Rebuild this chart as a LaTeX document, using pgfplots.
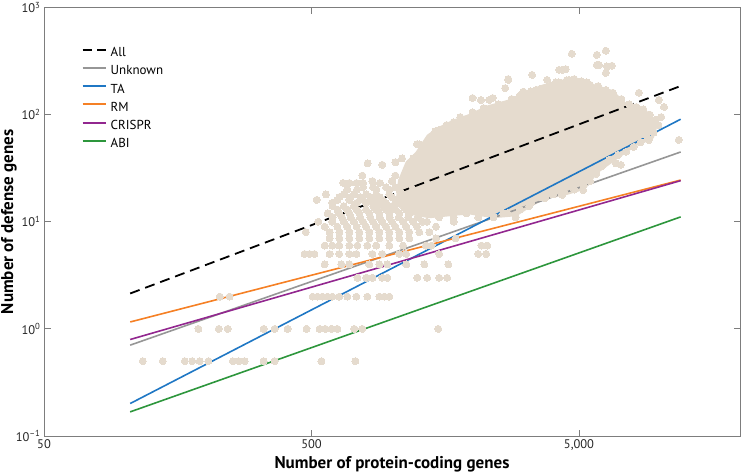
\documentclass[border=0pt]{standalone}
\usepackage{fontspec}
\setmainfont{PT Sans}
\usepackage{pgfplots}
\pgfplotsset{compat=1.18}
\definecolor{beige}{RGB}{229,219,206}
\definecolor{taBlue}{RGB}{31,119,196}
\definecolor{rmOrange}{RGB}{245,128,37}
\definecolor{crPurple}{RGB}{146,39,143}
\definecolor{abiGreen}{RGB}{45,150,60}
\definecolor{unkGray}{RGB}{150,150,150}
\definecolor{axisGray}{RGB}{125,125,125}
\begin{document}
\begin{tikzpicture}
\useasboundingbox (-44pt,-38pt) rectangle (701pt,436pt);
\begin{axis}[
  at={(0,0)}, anchor=south west,
  scale only axis, width=696pt, height=428.5pt,
  xmode=log, ymode=log,
  xmin=50, xmax=20000, ymin=0.1, ymax=1000,
  xtick={50,500,5000}, xticklabels={50,500,{5,000}},
  ytick={0.1,1,10,100,1000},
  yticklabels={10\textsuperscript{–1},10\textsuperscript{0},10\textsuperscript{1},10\textsuperscript{2},10\textsuperscript{3}},
  xminorticks=false, yminorticks=false,
  tick align=inside, major tick length=6.5pt,
  axis line style={draw=axisGray, line width=0.9pt},
  every tick/.style={draw=axisGray, line width=0.9pt},
  ticklabel style={font=\fontsize{12.5}{14}\selectfont, text=black!85},
  xlabel={Number of protein-coding genes},
  ylabel={Number of defense genes},
  label style={font=\bfseries\fontsize{17}{20}\selectfont},
  xlabel style={at={(axis description cs:0.5,-0.077)}, anchor=base},
  ylabel style={at={(axis description cs:-0.0618,0.5)}, anchor=north, inner sep=0pt},
  legend cell align=left,
  legend style={at={(axis description cs:0.0539,0.9078)}, anchor=north west,
    draw=none, fill=none, inner sep=0pt, row sep=6.2pt,
    font=\fontsize{13}{15}\selectfont,
    nodes={inner xsep=3.5pt, inner ysep=0pt, text height=9.5pt, text depth=2.5pt}},
]
% dense core of the cloud
\addplot[forget plot, fill=beige, draw=beige, line width=6pt, line join=round] coordinates {
(1250,43) (1378,62) (1500,72) (1700,84) (1950,95) (2300,115) (2750,130) (3250,160)
(3700,180) (4100,194) (4700,205) (5200,195) (5800,177) (6600,160) (7400,122) (8700,108)
(9600,80) (9300,62) (8100,54) (6800,40) (5800,30) (5170,21) (4330,18.5) (3740,17.5)
(3256,14.5) (2900,12) (2400,11.5) (1944,12.5) (1637,12) (1378,11.5) (1150,12.5) (1060,16)
(1080,24) (1150,35)} -- cycle;
% individual genomes
\addplot[forget plot, only marks, mark=*, mark size=3.5pt, color=beige, mark options={draw=beige, fill=beige, line width=0pt}] table {
x y
117 0.5
139 0.5
168 0.5
179 0.5
191 0.5
206 0.5
254 0.5
267 0.5
281 0.5
331 0.5
364 0.5
545 0.5
730 0.5
189 1
225 1
243 1
331 1
364 1
407 1
479 1
536 1
564 1
594 1
625 1
723 1
775 1
1489 1
227 2
247 2
505 2
527 2
549 2
574 2
598 2
635 2
681 2
736 2
809 2
897 2
936 2
977 2
743 3
802 3
845 3
920 3
961 3
1243 3
1354 3
1501 3
1608 3
560 4
647 4
693 4
822 4
897 4
961 4
1130 4
1320 4
1623 4
471 5
492 5
513 5
584 5
635 5
693 5
736 5
845 5
920 5
1065 5
1130 5
1501 5
2100 5
2249 5
560 6
598 6
635 6
693 6
743 6
809 6
873 6
977 6
1100 6
1340 6
1405 6
2160 6
2270 6
584 7
636 7
693 7
755 7
823 7
897 7
977 7
1065 7
1160 7
1460 7
1730 7
476 8
584 8
636 8
693 8
755 8
823 8
897 8
977 8
1065 8
1160 8
1265 8
1380 8
560 9
625 9
680 9
737 9
800 9
873 9
950 9
1030 9
1130 9
1240 9
1460 9
530 10
598 10
660 10
720 10
780 10
850 10
920 10
1000 10
1100 10
1200 10
1300 10
1700 10
600 11
650 11
700 11
760 11
830 11
900 11
980 11
1060 11
1150 11
1250 11
575 12
636 12
693 12
755 12
823 12
897 12
977 12
1065 12
1160 12
625 13
680 13
737 13
800 13
873 13
950 13
1030 13
1130 13
600 14
660 14
720 14
850 14
920 14
1000 14
1100 14
1200 14
598 15
737 15
800 15
873 15
950 15
1060 15
1160 15
523 16
625 16
693 16
780 16
845 16
920 16
1030 16
1130 16
636 17
700 17
760 17
830 17
900 17
1000 17
566 18
660 18
720 18
800 18
873 18
977 18
1100 18
680 20
740 20
873 20
977 20
1065 20
1200 20
780 21
850 21
950 21
1030 21
657 23
693 23
737 23
780 23
900 23
1100 23
845 24
1000 24
1160 24
775 27
1030 27
1120 27
810 35
920 34
1030 36
1090 39
1200 39
1265 53
1240 53
1265 38
1502 72
1870 89
1750 80
2000 143
2150 137
2380 143
2650 177
2720 215
2720 211
3340 235
3800 211
4213 262
4330 262
4460 266
4700 370
5830 361
6300 395
5940 291
5830 291
6360 282
6640 286
6300 245
5350 200
4590 211
4100 200
3450 170
3100 164
2900 137
2308 137
8375 160
9946 137
10400 118
10150 95
11800 58
9127 58
6870 35
7170 34
5180 19.8
2400 16
2250 15
1944 14
2600 12
2900 11
3256 14
3740 16.6
4330 17.8
5790 29
1400 62
1450 70
1600 80
1700 85
1800 95
2000 105
2200 115
2500 125
2800 140
3000 150
3300 165
3600 175
3900 185
4200 200
4500 210
4800 215
5100 205
5500 190
5900 185
6300 170
6700 160
7200 140
7700 125
8200 118
8700 112
9200 100
9700 90
9900 80
9500 68
9000 62
8500 55
8000 50
7500 45
7000 42
6500 38
6100 33
5800 28
5500 24
5200 22
4800 20
4400 19
4000 18
3600 17
3300 15
3000 13
2700 12
2400 11
2100 11
1900 12
1700 11
1500 11
1350 10
1250 12
1150 13
};
% fitted scaling laws
\addplot[forget plot, unkGray, line width=1.6pt] coordinates {(105,0.705) (12000,44.8)};
\addplot[forget plot, taBlue, line width=1.6pt] coordinates {(105,0.201) (12000,90.6)};
\addplot[forget plot, rmOrange, line width=1.6pt] coordinates {(105,1.16) (12000,24.5)};
\addplot[forget plot, crPurple, line width=1.6pt] coordinates {(105,0.796) (12000,24.2)};
\addplot[forget plot, abiGreen, line width=1.6pt] coordinates {(105,0.168) (12000,11.1)};
\addplot[forget plot, black, line width=1.8pt, dash pattern=on 10pt off 6pt] coordinates {(105,2.14) (12000,185)};
% legend
\addlegendimage{legend image code/.code={\draw[black, line width=2pt, dash pattern=on 9pt off 5.5pt] (0pt,3.5pt) -- (23.5pt,3.5pt);}}
\addlegendentry{All}
\addlegendimage{legend image code/.code={\draw[draw=unkGray, line width=2pt] (0pt,3.5pt) -- (23.5pt,3.5pt);}}
\addlegendentry{Unknown}
\addlegendimage{legend image code/.code={\draw[draw=taBlue, line width=2pt] (0pt,3.5pt) -- (23.5pt,3.5pt);}}
\addlegendentry{TA}
\addlegendimage{legend image code/.code={\draw[draw=rmOrange, line width=2pt] (0pt,3.5pt) -- (23.5pt,3.5pt);}}
\addlegendentry{RM}
\addlegendimage{legend image code/.code={\draw[draw=crPurple, line width=2pt] (0pt,3.5pt) -- (23.5pt,3.5pt);}}
\addlegendentry{CRISPR}
\addlegendimage{legend image code/.code={\draw[draw=abiGreen, line width=2pt] (0pt,3.5pt) -- (23.5pt,3.5pt);}}
\addlegendentry{ABI}
\end{axis}
\end{tikzpicture}
\end{document}
